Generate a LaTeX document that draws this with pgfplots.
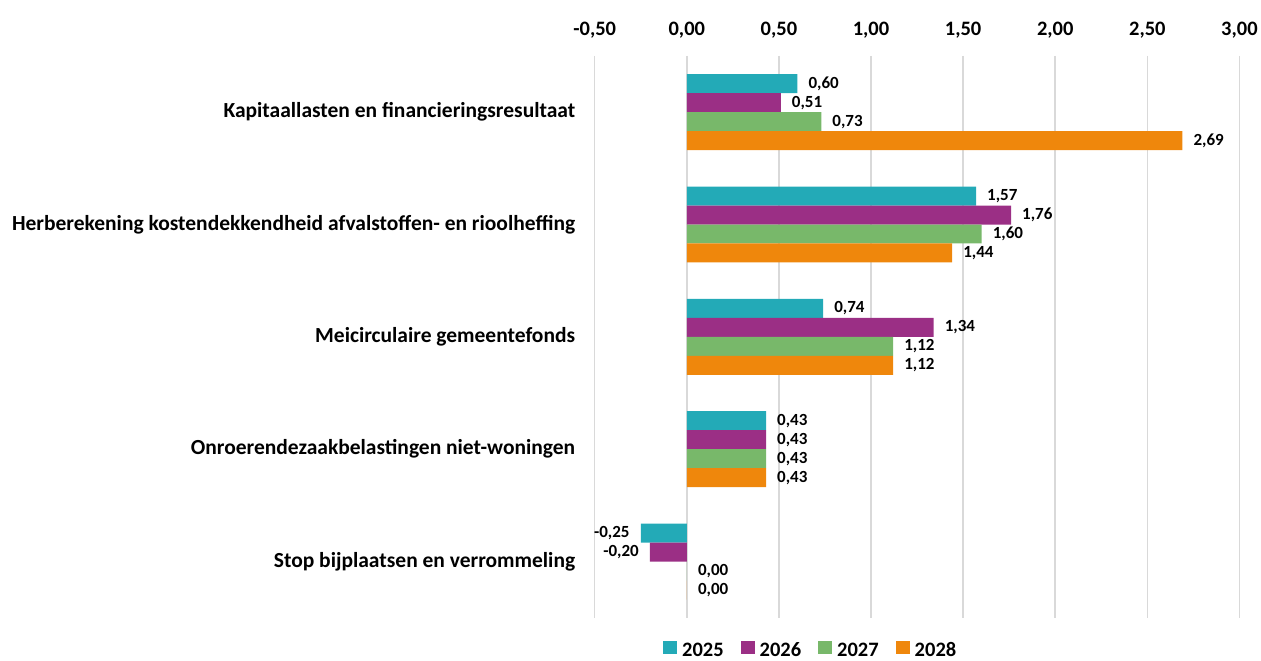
\documentclass[border=0pt]{standalone}
\usepackage{pgfplots}
\pgfplotsset{compat=1.18}
\usepackage{fontspec}
\setmainfont{Carlito}
\definecolor{cA}{RGB}{35,170,183}
\definecolor{cB}{RGB}{155,47,133}
\definecolor{cC}{RGB}{120,184,106}
\definecolor{cD}{RGB}{239,135,12}
\definecolor{gridc}{RGB}{217,217,217}
\begin{document}
\begin{tikzpicture}
\begin{axis}[
  name=ax,
  scale only axis,
  width=645pt, height=562pt,
  xbar, bar width=19pt,
  xmin=-0.5, xmax=3.0,
  ymin=-0.5, ymax=4.5,
  y dir=reverse,
  xtick={-0.5,0,0.5,1,1.5,2,2.5,3},
  ytick={0,1,2,3,4},
  yticklabels={Kapitaallasten en financieringsresultaat,
    Herberekening kostendekkendheid afvalstoffen- en rioolheffing,
    Meicirculaire gemeentefonds,
    Onroerendezaakbelastingen niet-woningen,
    Stop bijplaatsen en verrommeling},
  xticklabel pos=right,
  xmajorgrids, major grid style={draw=gridc, line width=1.5pt},
  axis line style={draw=none},
  major tick length=0pt,
  tick style={draw=none},
  /pgf/number format/.cd, fixed, fixed zerofill, precision=2, use comma, assume math mode=true,
  /pgfplots/.cd,
  xticklabel style={font=\fontsize{20.5}{24}\selectfont\bfseries, yshift=14pt},
  yticklabel style={font=\fontsize{21.5}{25}\selectfont\bfseries, xshift=-16pt},
  nodes near coords,
  every node near coord/.append style={font=\fontsize{17}{20}\selectfont\bfseries, inner xsep=11pt, inner ysep=0pt, black},
  legend columns=4,
  legend style={at={(0.335,-0.04)}, anchor=north, draw=none, font=\fontsize{20.5}{24}\selectfont\bfseries,
    inner sep=0pt,
    /tikz/every even column/.append style={column sep=15pt},
    /tikz/every odd column/.append style={column sep=3pt}},
  legend image code/.code={\fill[#1] (0pt,-3.5pt) rectangle (14pt,9.5pt);},
]
\addplot[fill=cA, draw=none, bar shift=28.5pt] coordinates {(0.60,0) (1.57,1) (0.74,2) (0.43,3) (-0.25,4)};
\addplot[fill=cB, draw=none, bar shift=9.5pt] coordinates {(0.51,0) (1.76,1) (1.34,2) (0.43,3) (-0.20,4)};
\addplot[fill=cC, draw=none, bar shift=-9.5pt] coordinates {(0.73,0) (1.60,1) (1.12,2) (0.43,3) (0.00,4)};
\addplot[fill=cD, draw=none, bar shift=-28.5pt] coordinates {(2.69,0) (1.44,1) (1.12,2) (0.43,3) (0.00,4)};
\legend{2025,2026,2027,2028}
\end{axis}
\path ([shift={(-595pt,-37pt)}]ax.south west) ([shift={(21pt,56pt)}]ax.north east);
\end{tikzpicture}
\end{document}
